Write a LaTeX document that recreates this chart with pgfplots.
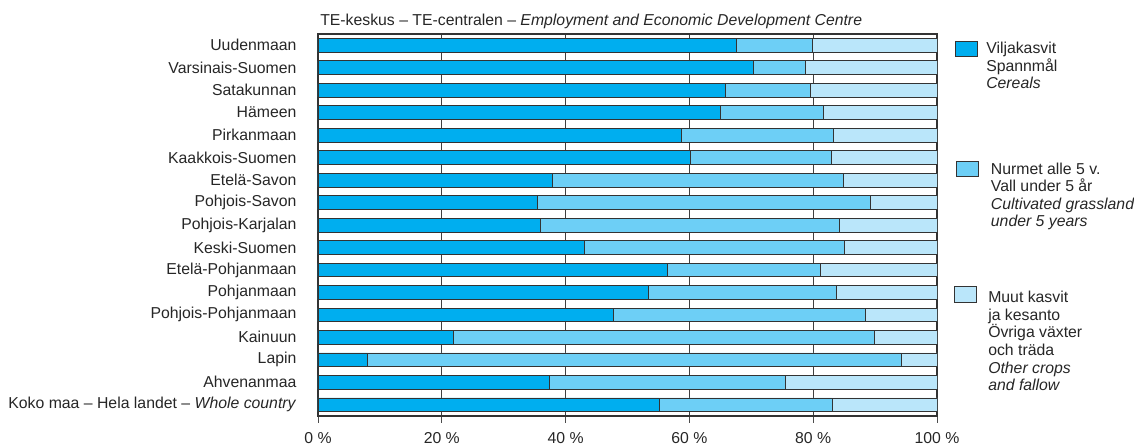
\documentclass[border=0pt]{standalone}
\usepackage{pgfplots}
\pgfplotsset{compat=1.18}
\usepackage{pgfplotstable}
\usepackage{fontspec}
\setmainfont{Liberation Sans}
\definecolor{cer}{HTML}{00AEEF}
\definecolor{gra}{HTML}{6DCFF6}
\definecolor{oth}{HTML}{BAE6FA}
\definecolor{edge}{HTML}{333333}

% y: 0 = whole country (bottom) ... 16 = Uudenmaan (top)
\pgfplotstableread{
y  cereals grass other
16 67.6 12.3 20.1
15 70.4  8.3 21.3
14 65.8 13.7 20.5
13 65.0 16.7 18.3
12 58.7 24.6 16.7
11 60.2 22.7 17.1
10 37.9 46.9 15.2
9  35.4 53.8 10.8
8  35.9 48.3 15.8
7  43.0 42.1 14.9
6  56.4 24.8 18.8
5  53.3 30.5 16.2
4  47.7 40.7 11.6
3  21.9 67.9 10.2
2   8.0 86.3  5.7
1  37.4 38.1 24.5
0  55.1 28.0 16.9
}\landuse

\begin{document}
\fontsize{11.85}{13.2}\selectfont
\begin{tikzpicture}
\begin{axis}[
  scale only axis,
  width=464.25pt, height=286.5pt,
  xbar stacked, bar width=10.3pt,
  xmin=0, xmax=100, ymin=-0.5, ymax=16.5,
  xtick={0,20,40,60,80,100},
  xticklabels={0 \%,20 \%,40 \%,60 \%,80 \%,100 \%},
  ytick={0,...,16},
  yticklabels={Koko maa -- Hela landet -- \textit{Whole country},Ahvenanmaa,Lapin,Kainuun,Pohjois-Pohjanmaan,Pohjanmaan,Etelä-Pohjanmaan,Keski-Suomen,Pohjois-Karjalan,Pohjois-Savon,Etelä-Savon,Kaakkois-Suomen,Pirkanmaan,Hämeen,Satakunnan,Varsinais-Suomen,Uudenmaan},
  tick label style={font=\fontsize{11.85}{13.2}\selectfont, text=black!85},
  yticklabel style={inner sep=0pt, xshift=-16pt},
  xticklabel style={yshift=-3pt},
  y tick style={draw=none},
  x tick style={black!70, line width=0.6pt},
  xtick align=outside, major tick length=5pt,
  xtick pos=bottom,
  xmajorgrids, grid style={black!75, line width=0.6pt},
  axis line style={black!80, line width=0.8pt},
  every axis plot/.append style={draw=edge, line width=0.5pt},
]
\addplot[fill=cer] table[x=cereals, y=y] {\landuse};
\addplot[fill=gra] table[x=grass, y=y] {\landuse};
\addplot[fill=oth] table[x=other, y=y] {\landuse};
\end{axis}
% title
\node[anchor=base west, inner sep=0pt, text=black!85] at (1.5pt,292.5pt)
  {TE-keskus -- TE-centralen -- \textit{Employment and Economic Development Centre}};
% legend
\begin{scope}[every node/.style={anchor=north west, inner sep=0pt, align=left, text=black!85,
    font=\fontsize{11.85}{13.2}\selectfont}]
\draw[edge, fill=cer, line width=0.6pt] (477.75pt,269.5pt) rectangle (494.25pt,280.7pt);
\node at (501pt,280.5pt) {Viljakasvit\\Spannmål\\\textit{Cereals}};
\draw[edge, fill=gra, line width=0.6pt] (478.5pt,179.5pt) rectangle (495pt,190.7pt);
\node at (504.5pt,190.2pt) {Nurmet alle 5 v.\\Vall under 5 år\\\textit{Cultivated grassland}\\\textit{under 5 years}};
\draw[edge, fill=oth, line width=0.6pt] (477.5pt,85.5pt) rectangle (494pt,97.5pt);
\node at (502.5pt,93.7pt) {Muut kasvit\\ja kesanto\\Övriga växter\\och träda\\\textit{Other crops}\\\textit{and fallow}};
\end{scope}
\pgfresetboundingbox
\path[use as bounding box] (-238.5pt,-21.75pt) rectangle (612pt,312pt);
\end{tikzpicture}
\end{document}
